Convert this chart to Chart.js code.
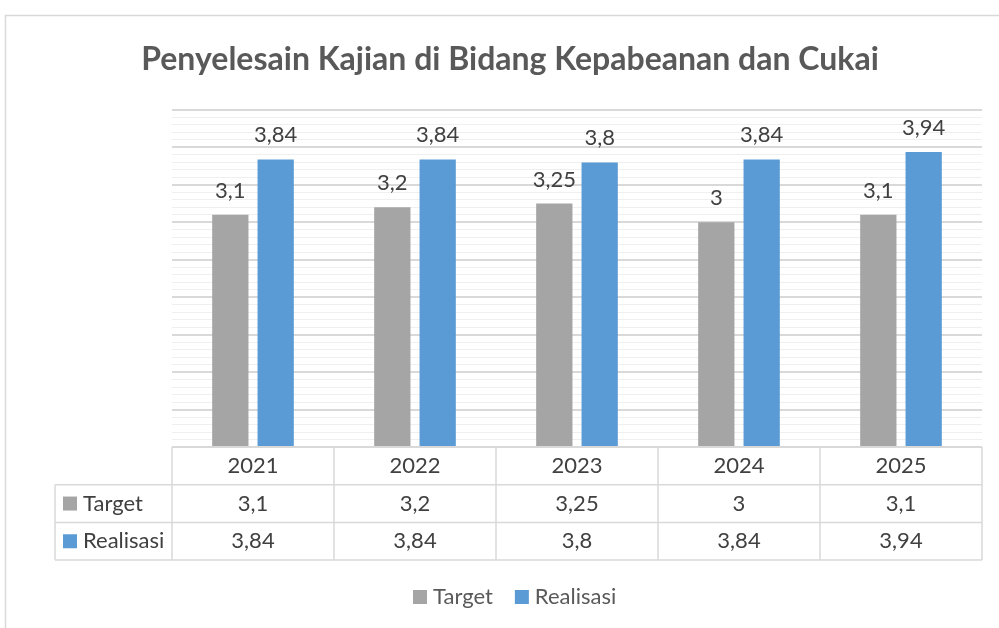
<!DOCTYPE html>
<html>
<head>
<meta charset="utf-8">
<script src="https://cdn.jsdelivr.net/npm/chart.js@4.4.1/dist/chart.umd.min.js"></script>
<style>
  html, body { margin: 0; padding: 0; background: #fff; }
  #chart { display: block; }
</style>
</head>
<body>
<canvas id="chart" width="999" height="628"></canvas>
<script>
// data
const years = ['2021', '2022', '2023', '2024', '2025'];
const targetValues = [3.1, 3.2, 3.25, 3, 3.1];
const realisasiValues = [3.84, 3.84, 3.8, 3.84, 3.94];
const seriesNames = ['Target', 'Realisasi'];
const seriesColors = ['#a5a5a5', '#5b9bd5'];
const chartTitle = 'Penyelesain Kajian di Bidang Kepabeanan dan Cukai';
const yMax = 4.5;
const yStep = 0.1;

const FONT = 'Lato, "Open Sans", sans-serif';

function fmt(v) {
  return String(v).replace('.', ',');
}

// draws frame, title, value labels, data table and legend
const excelBits = {
  id: 'excelBits',
  afterDraw(chart) {
    const ctx = chart.ctx;
    const area = chart.chartArea;
    const xs = chart.scales.x;
    ctx.save();

    // outer frame
    ctx.strokeStyle = '#d9d9d9';
    ctx.lineWidth = 1.5;
    ctx.strokeRect(5.5, 15.5, 1100, 700);

    // title
    ctx.fillStyle = '#595959';
    ctx.font = 'bold 32px ' + FONT;
    ctx.textAlign = 'center';
    ctx.textBaseline = 'alphabetic';
    ctx.fillText(chartTitle, 510, 70);

    // value labels
    ctx.font = '22px ' + FONT;
    ctx.fillStyle = '#404040';
    chart.data.datasets.forEach((ds, di) => {
      const meta = chart.getDatasetMeta(di);
      meta.data.forEach((bar, i) => {
        ctx.fillText(fmt(ds.data[i]), bar.x, bar.y - 17);
      });
    });

    // data table
    const half = (xs.getPixelForValue(1) - xs.getPixelForValue(0)) / 2;
    const colEdges = [];
    for (let i = 0; i <= years.length; i++) {
      colEdges.push(xs.getPixelForValue(i) - half);
    }
    const rowH = 37.7;
    const y0 = area.bottom;
    const rows = [y0, y0 + rowH, y0 + rowH * 2, y0 + rowH * 3];
    const tableLeft = 55;

    ctx.strokeStyle = '#d9d9d9';
    ctx.lineWidth = 1.5;
    ctx.beginPath();
    ctx.moveTo(colEdges[0], rows[0]);
    ctx.lineTo(colEdges[colEdges.length - 1], rows[0]);
    for (let r = 1; r < rows.length; r++) {
      ctx.moveTo(tableLeft, rows[r]);
      ctx.lineTo(colEdges[colEdges.length - 1], rows[r]);
    }
    colEdges.forEach(x => {
      ctx.moveTo(x, rows[0]);
      ctx.lineTo(x, rows[3]);
    });
    ctx.moveTo(tableLeft, rows[1]);
    ctx.lineTo(tableLeft, rows[3]);
    ctx.stroke();

    ctx.font = '22px ' + FONT;
    ctx.fillStyle = '#404040';
    ctx.textBaseline = 'middle';
    ctx.textAlign = 'center';
    years.forEach((y, i) => {
      ctx.fillText(y, xs.getPixelForValue(i), (rows[0] + rows[1]) / 2);
    });
    chart.data.datasets.forEach((ds, di) => {
      const cy = (rows[di + 1] + rows[di + 2]) / 2;
      ds.data.forEach((v, i) => {
        ctx.textAlign = 'center';
        ctx.fillStyle = '#404040';
        ctx.fillText(fmt(v), xs.getPixelForValue(i), cy);
      });
      ctx.fillStyle = ds.backgroundColor;
      ctx.fillRect(63, cy - 7, 14, 14);
      ctx.fillStyle = '#404040';
      ctx.textAlign = 'left';
      ctx.fillText(ds.label, 83, cy);
    });

    // legend
    const ly = 597;
    let lx = 413;
    ctx.textAlign = 'left';
    chart.data.datasets.forEach(ds => {
      ctx.fillStyle = ds.backgroundColor;
      ctx.fillRect(lx, ly - 7, 14, 14);
      ctx.fillStyle = '#595959';
      ctx.fillText(ds.label, lx + 20, ly);
      lx += 20 + ctx.measureText(ds.label).width + 22;
    });

    ctx.restore();
  }
};

const ctx = document.getElementById('chart').getContext('2d');
new Chart(ctx, {
  type: 'bar',
  data: {
    labels: years,
    datasets: [{
      label: seriesNames[0],
      data: targetValues,
      backgroundColor: seriesColors[0],
      categoryPercentage: 0.56,
      barPercentage: 0.8
    }, {
      label: seriesNames[1],
      data: realisasiValues,
      backgroundColor: seriesColors[1],
      categoryPercentage: 0.56,
      barPercentage: 0.8
    }]
  },
  options: {
    responsive: false,
    animation: false,
    layout: {
      padding: { left: 172, right: 17, top: 110, bottom: 181 }
    },
    plugins: {
      legend: { display: false },
      title: { display: false },
      tooltip: { enabled: false }
    },
    scales: {
      x: {
        grid: { display: false },
        border: { display: false },
        ticks: { display: false },
        afterFit(scale) { scale.height = 0; }
      },
      y: {
        min: 0,
        max: yMax,
        ticks: { display: false, stepSize: yStep },
        border: { display: false },
        grid: {
          drawTicks: false,
          color: c => (c.index % 5 === 0 ? '#d9d9d9' : '#efefef'),
          lineWidth: c => (c.index % 5 === 0 ? 2 : 1)
        },
        afterFit(scale) { scale.width = 0; }
      }
    }
  },
  plugins: [excelBits]
});
</script>
</body>
</html>
